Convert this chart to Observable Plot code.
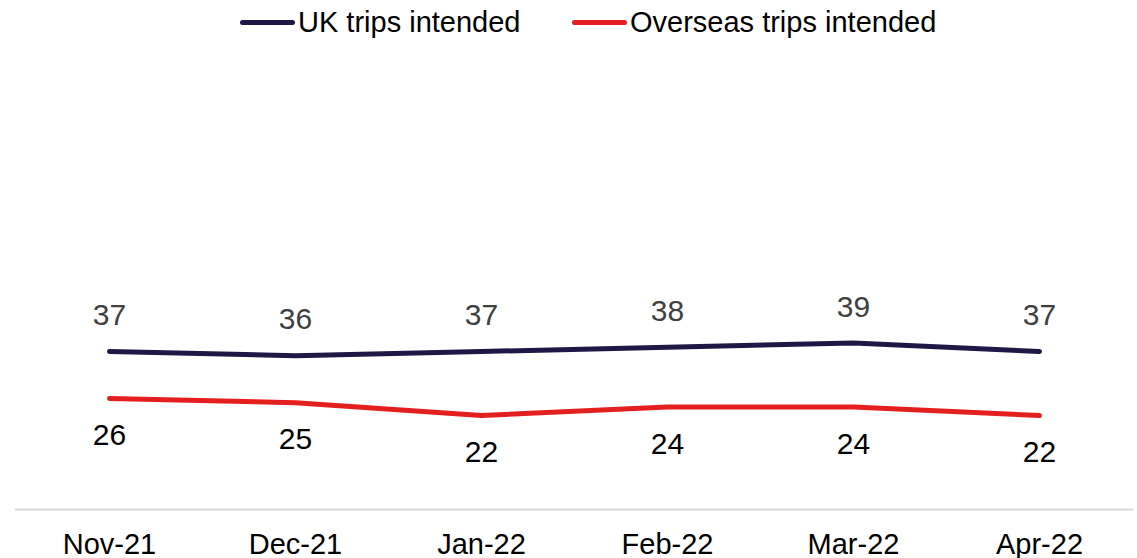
<!DOCTYPE html>
<html>
<head>
<meta charset="utf-8">
<script src="https://cdn.jsdelivr.net/npm/d3@7"></script>
<script src="https://cdn.jsdelivr.net/npm/@observablehq/plot@0.6"></script>
<style>
  body { margin: 0; background: #fff; font-family: "Liberation Sans", Arial, sans-serif; overflow: hidden; }
  #legend { position: relative; height: 44px; font-size: 29px; color: #000; }
  .item { position: absolute; top: 6px; display: flex; align-items: center; height: 32px; }
  .sw { width: 55px; height: 5px; border-radius: 3px; margin-right: 3px; }
</style>
</head>
<body>
<div id="legend"></div>
<div id="chart"></div>
<script>
const months = ["Nov-21", "Dec-21", "Jan-22", "Feb-22", "Mar-22", "Apr-22"];
const ukTrips = [37, 36, 37, 38, 39, 37];
const overseasTrips = [26, 25, 22, 24, 24, 22];
const seriesNames = ["UK trips intended", "Overseas trips intended"];
const seriesColors = ["#201747", "#e41f1f"];

const legend = document.getElementById("legend");
const legendX = [240, 572];
seriesNames.forEach((name, i) => {
  const it = document.createElement("div");
  it.className = "item";
  it.style.left = legendX[i] + "px";
  it.innerHTML = `<span class="sw" style="background:${seriesColors[i]}"></span><span>${name}</span>`;
  legend.appendChild(it);
});

const uk = months.map((m, i) => ({month: m, value: ukTrips[i]}));
const ov = months.map((m, i) => ({month: m, value: overseasTrips[i]}));

const chart = Plot.plot({
  width: 1137,
  height: 530,
  marginLeft: 15,
  marginRight: 4,
  marginTop: 38,
  marginBottom: 65,
  style: {fontFamily: "Liberation Sans, Arial, sans-serif", background: "#fff", color: "#000"},
  x: {type: "point", domain: months, padding: 0.5, label: null},
  y: {domain: [0, 100], axis: null},
  marks: [
    Plot.ruleY([0], {stroke: "#d9d9d9", strokeWidth: 2}),
    Plot.axisX({tickSize: 0, tickPadding: 24, fontSize: 29, label: null, fill: "#000"}),
    Plot.line(uk, {x: "month", y: "value", stroke: seriesColors[0], strokeWidth: 5, strokeLinecap: "round", strokeLinejoin: "round"}),
    Plot.line(ov, {x: "month", y: "value", stroke: seriesColors[1], strokeWidth: 5, strokeLinecap: "round", strokeLinejoin: "round"}),
    Plot.text(uk, {x: "month", y: "value", text: d => String(d.value), dy: -36, fontSize: 30, fill: "#404040", lineAnchor: "middle"}),
    Plot.text(ov, {x: "month", y: "value", text: d => String(d.value), dy: 37, fontSize: 30, fill: "#000", lineAnchor: "middle"})
  ]
});
document.getElementById("chart").appendChild(chart);
</script>
</body>
</html>
